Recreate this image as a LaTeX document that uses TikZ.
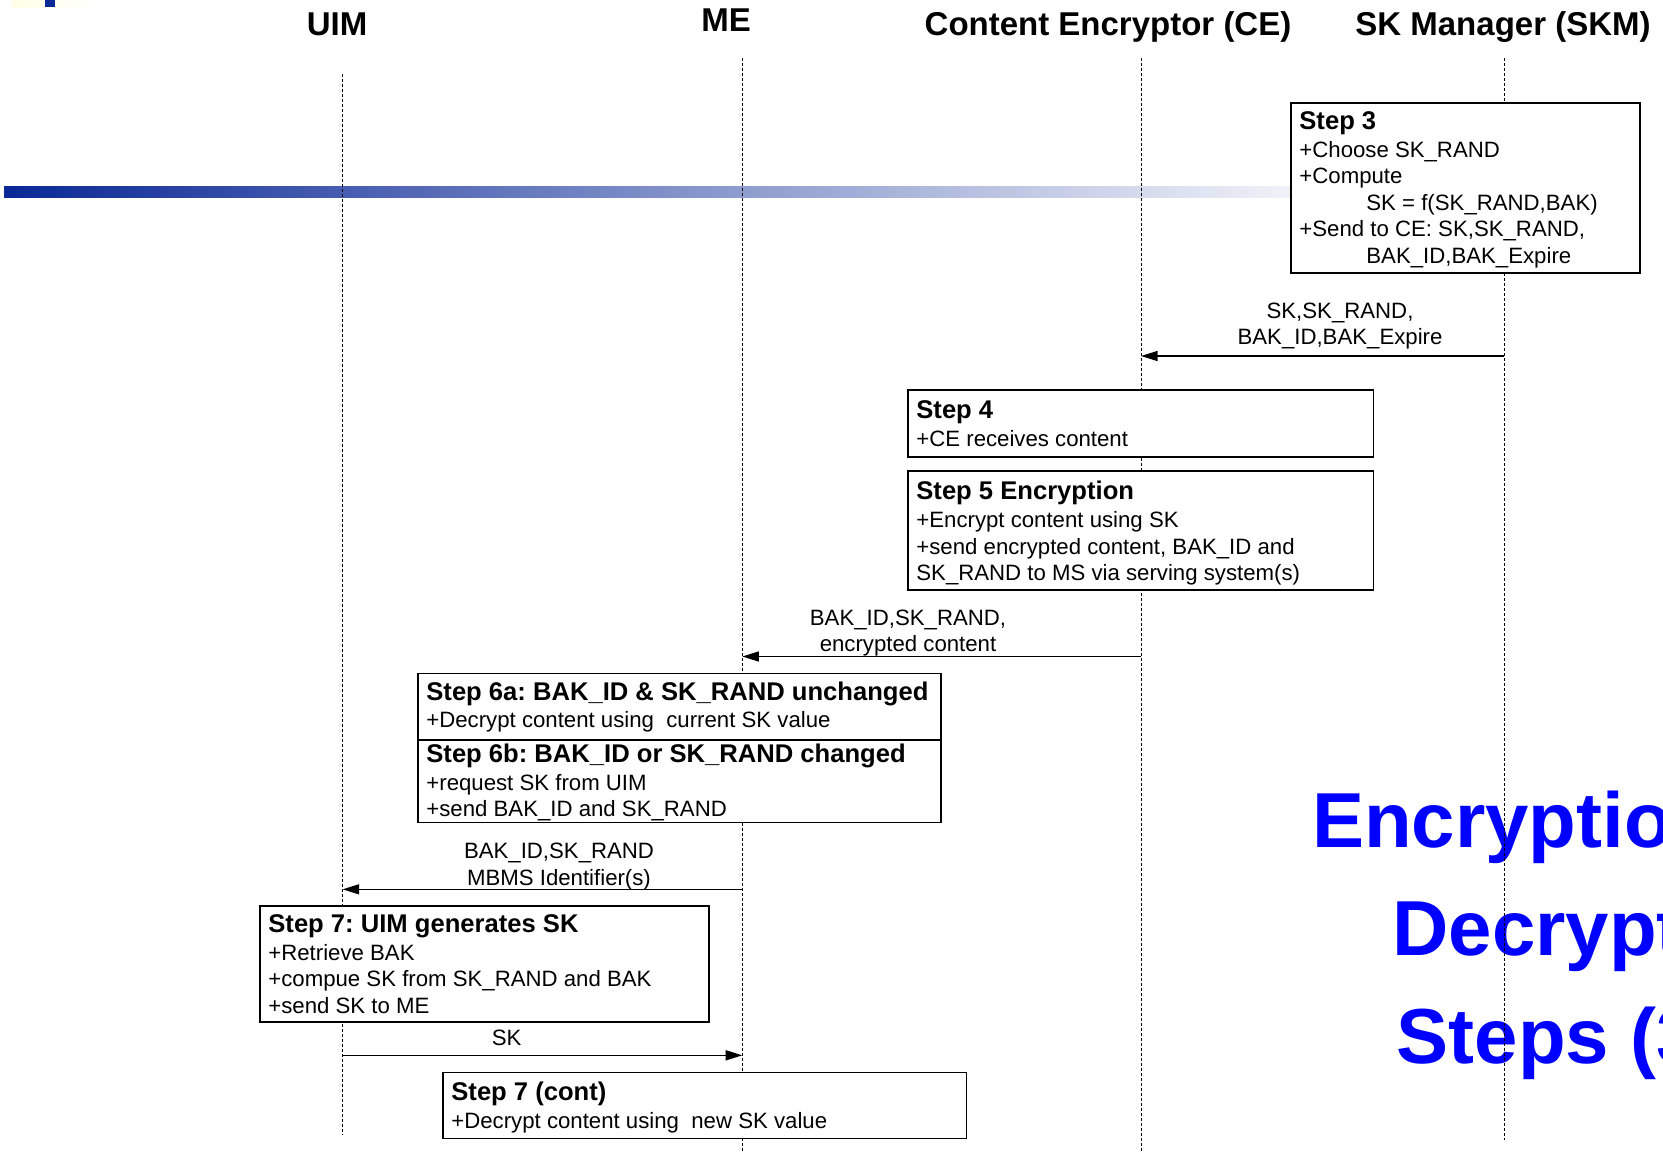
\documentclass[tikz,border=0pt]{standalone}
\usepackage{fontspec}
\setmainfont{Liberation Sans}
\usetikzlibrary{arrows.meta}
\frenchspacing
\definecolor{barblue}{RGB}{10,40,150}
\definecolor{titleblue}{RGB}{0,0,255}
\tikzstyle{lifeline}=[line width=0.5pt, dash pattern=on 1.5pt off 1pt]
\tikzstyle{stepbox}=[draw, fill=white, line width=0.7pt]
\tikzstyle{steptext}=[anchor=base west, align=left, inner sep=0pt, font=\fontsize{11.1pt}{13.25pt}\selectfont]
\tikzstyle{msg}=[line width=0.7pt, -{Triangle[length=8.3pt,width=5pt]}]
\tikzstyle{msglabel}=[anchor=base, align=center, inner sep=0pt, font=\fontsize{11.1pt}{13.25pt}\selectfont]
\tikzstyle{head}=[anchor=base, inner sep=0pt, font=\fontsize{16.5pt}{20pt}\selectfont\bfseries]
\tikzstyle{bigtitle}=[anchor=base, align=center, inner sep=0pt, text=titleblue, font=\fontsize{39pt}{54pt}\selectfont\bfseries]
\newcommand\steptitle[1]{{\fontsize{12.8pt}{13.25pt}\selectfont\bfseries #1}}

\begin{document}
\begin{tikzpicture}[x=0.5pt, y=-0.5pt]
\useasboundingbox (0,0) rectangle (1663,1153);
\fill[white] (0,0) rectangle (1663,1153);
% Slide decoration
    \shade[left color=yellow!10, right color=white] (12,0) rectangle (100,7);
    \fill[barblue] (45,0) rectangle (55,7);
    \shade[left color=barblue, right color=barblue!6] (4,186.7) rectangle (1291,197.7);
% Title (base anchors sit on the last line)
\begin{scope}
    \clip (0,0) rectangle (1663,1153);
    \node[bigtitle] (title) at (1596,1063) {Encryption and\\Decryption\\Steps (3-7)};
\end{scope}
% Lifelines
    \coordinate (uim) at (342.6,74);
    \coordinate (me) at (742.3,58);
    \coordinate (ce) at (1141,58);
    \coordinate (skm) at (1504,58);
    \draw[lifeline] (uim) -- (uim |- 0,1135);
    \draw[lifeline] (me) -- (me |- 0,1151);
    \draw[lifeline] (ce) -- (ce |- 0,1153);
    \draw[lifeline] (skm) -- (skm |- 0,1140);
% Headers
    \node[head] (uimhead) at (337,35.5) {UIM};
    \node[head] (mehead) at (726,31.5) {ME};
    \node[head] (cehead) at (1108,35.5) {Content Encryptor (CE)};
    \node[head] (skmhead) at (1503,35.5) {SK Manager (SKM)};
% Steps
    \draw[stepbox] (1291,103) rectangle (1640,273);
    \node[steptext] (step3) at (1299,263) {\steptitle{Step 3}\\[0.75pt]+Choose SK\_RAND\\+Compute\\
        \hspace*{33.5pt}SK = f(SK\_RAND,BAK)\\+Send to CE: SK,SK\_RAND,\\\hspace*{33.5pt}BAK\_ID,BAK\_Expire};
    \draw[stepbox] (908,390) rectangle (1373.5,457);
    \node[steptext] (step4) at (916,446) {\steptitle{Step 4}\\[0.75pt]+CE receives content};
    \draw[stepbox] (908,471) rectangle (1373.5,590);
    \node[steptext] (step5) at (916,580.5) {\steptitle{Step 5 Encryption}\\[0.75pt]+Encrypt content using SK\\
        +send encrypted content, BAK\_ID and\\SK\_RAND to MS via serving system(s)};
    \draw[stepbox] (418,673.3) rectangle (941,822.7);
    \draw[line width=0.7pt] (418,740) -- (941,740);
    \node[steptext] (step6a) at (426,727) {\steptitle{Step 6a: BAK\_ID \& SK\_RAND unchanged}\\
        +Decrypt content using \ current SK value};
    \node[steptext] (step6b) at (426,816.7) {\steptitle{Step 6b: BAK\_ID or SK\_RAND changed}\\[0.75pt]
        +request SK from UIM\\+send BAK\_ID and SK\_RAND};
    \draw[stepbox] (260,906) rectangle (709,1022);
    \node[steptext] (step7) at (268,1013) {\steptitle{Step 7: UIM generates SK}\\[0.75pt]+Retrieve BAK\\
        +compue SK from SK\_RAND and BAK\\+send SK to ME};
    \draw[stepbox] (443,1072.5) rectangle (966.7,1138.3);
    \node[steptext] (step7c) at (451,1128.3) {\steptitle{Step 7 (cont)}\\[0.75pt]+Decrypt content using \ new SK value};
% Messages
    \draw[msg] (skm |- 0,356) -- (ce |- 0,356);
    \node[msglabel] (keys) at (1340,344.5) {SK,SK\_RAND,\\BAK\_ID,BAK\_Expire};
    \draw[msg] (ce |- 0,656.5) -- (me |- 0,656.5);
    \node[msglabel] (data) at (908,651.5) {BAK\_ID,SK\_RAND,\\encrypted content};
    \draw[msg] (me |- 0,889.3) -- (uim |- 0,889.3);
    \node[msglabel] (req) at (559,885.3) {BAK\_ID,SK\_RAND\\MBMS Identifier(s)};
    \draw[msg] (uim |- 0,1055.3) -- (me |- 0,1055.3);
    \node[msglabel] (sk) at (506.7,1045) {SK};
\end{tikzpicture}
\end{document}
